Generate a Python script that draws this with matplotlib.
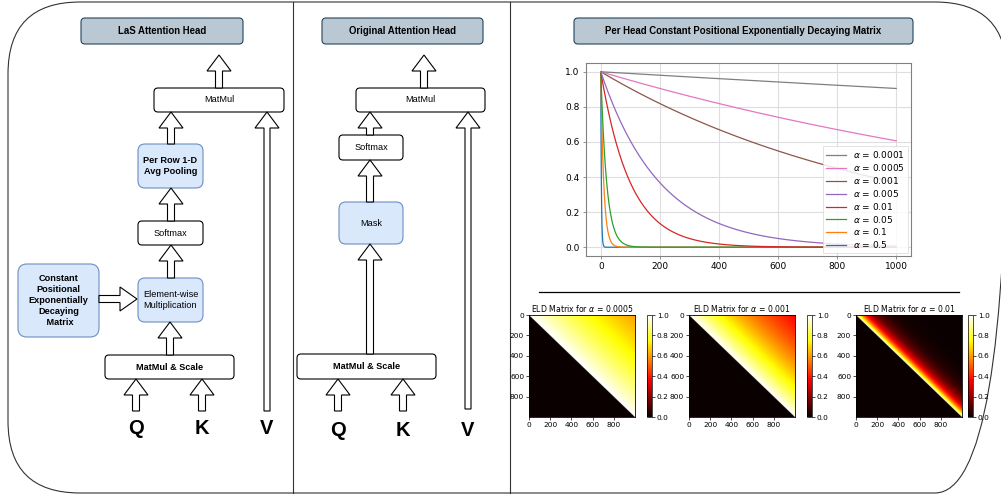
import numpy as np
import matplotlib
matplotlib.use('Agg')
import matplotlib.pyplot as plt
from matplotlib.patches import FancyBboxPatch, Polygon

# decay rates shown in the line chart (legend order)
alphas = [0.0001, 0.0005, 0.001, 0.005, 0.01, 0.05, 0.1, 0.5]
line_colors = ['tab:gray', 'tab:pink', 'tab:brown', 'tab:purple',
               'tab:red', 'tab:green', 'tab:orange', 'tab:blue']
seq_len = 1000
# decay rates shown in the three ELD heatmaps
heat_alphas = [0.0005, 0.001, 0.01]
heat_ticks = [0, 200, 400, 600, 800]
line_xticks = [0, 200, 400, 600, 800, 1000]
line_yticks = [0.0, 0.2, 0.4, 0.6, 0.8, 1.0]

W, H = 1001, 495
fig = plt.figure(figsize=(W / 100, H / 100), dpi=100)
fig.patch.set_facecolor('white')

DIAG_FONT = 'Liberation Sans'
TITLE_FC, TITLE_EC = '#bac8d3', '#23445d'
BLUE_FC, BLUE_EC = '#dae8fc', '#6c8ebf'


def fr(x0, y0, w, h):
    # pixel box (top-left origin) -> figure fraction
    return [x0 / W, 1 - (y0 + h) / H, w / W, h / H]


# ---- diagram layer, in pixel units ----
ax = fig.add_axes([0, 0, 1, 1], zorder=0)
ax.set_xlim(0, W)
ax.set_ylim(H, 0)
ax.axis('off')


def box(x0, y0, x1, y1, text, fc='white', ec='black', bold=False, size=6.6, r=4):
    ax.add_patch(FancyBboxPatch((x0, y0), x1 - x0, y1 - y0,
                                boxstyle='round,pad=0,rounding_size=%g' % r,
                                fc=fc, ec=ec, lw=0.8))
    ax.text((x0 + x1) / 2, (y0 + y1) / 2, text, ha='center', va='center',
            fontsize=size, family=DIAG_FONT, fontweight='bold' if bold else 'normal',
            linespacing=1.3)


def up(x, y_tail, y_tip, s=7, hw=24, hl=16):
    pts = [(x - s / 2, y_tail), (x - s / 2, y_tip + hl), (x - hw / 2, y_tip + hl),
           (x, y_tip), (x + hw / 2, y_tip + hl), (x + s / 2, y_tip + hl),
           (x + s / 2, y_tail)]
    ax.add_patch(Polygon(pts, closed=True, fc='white', ec='black', lw=0.8))


def right(y, x_tail, x_tip, s=7, hw=24, hl=17):
    pts = [(x_tail, y - s / 2), (x_tip - hl, y - s / 2), (x_tip - hl, y - hw / 2),
           (x_tip, y), (x_tip - hl, y + hw / 2), (x_tip - hl, y + s / 2),
           (x_tail, y + s / 2)]
    ax.add_patch(Polygon(pts, closed=True, fc='white', ec='black', lw=0.8))


def qkv(xs, y):
    for x, t in zip(xs, ['Q', 'K', 'V']):
        ax.text(x, y, t, ha='center', va='center', fontsize=14.5,
                fontweight='bold', family=DIAG_FONT)


# outer frame and dividers
ax.add_patch(FancyBboxPatch((8, 2), 999, 491,
                            boxstyle='round,pad=0,rounding_size=72',
                            fc='none', ec='#333333', lw=0.8))
ax.plot([293, 293], [2, 493], color='#333333', lw=0.8)
ax.plot([510, 510], [2, 493], color='#333333', lw=0.8)
ax.plot([539, 959], [292, 292], color='black', lw=0.9)

# LaS attention head
box(81, 18, 243, 44, 'LaS Attention Head', TITLE_FC, TITLE_EC, True, 6.9, 4)
box(154, 88, 284, 112, 'MatMul')
box(138, 144, 203, 188, 'Per Row 1-D\nAvg Pooling', BLUE_FC, BLUE_EC, True, 6.6, 7)
box(138, 221, 203, 245, 'Softmax')
box(138, 278, 203, 322, 'Element-wise\nMultiplication', BLUE_FC, BLUE_EC, False, 6.6, 7)
box(18, 264, 99, 337, 'Constant\nPositional\nExponentially\nDecaying\n Matrix',
    BLUE_FC, BLUE_EC, True, 6.6, 9)
box(105, 355, 234, 379, 'MatMul & Scale', bold=True)
up(219, 88, 55)
up(171, 144, 112)
up(171, 221, 188)
up(171, 278, 245)
up(170, 355, 322)
up(136, 411, 379)
up(202, 411, 379)
up(267, 411, 112, s=6)
right(299, 99, 137)
qkv([136, 202, 267], 428)

# original attention head
box(322, 18, 483, 44, 'Original Attention Head', TITLE_FC, TITLE_EC, True, 6.9, 4)
box(356, 88, 485, 112, 'MatMul')
box(339, 135, 403, 160, 'Softmax')
box(339, 202, 403, 244, 'Mask', BLUE_FC, BLUE_EC, False, 6.6, 7)
box(297, 354, 436, 379, 'MatMul & Scale', bold=True)
up(424, 88, 55)
up(370, 135, 112)
up(370, 202, 160)
up(370, 354, 244)
up(338, 411, 379)
up(403, 411, 379)
up(468, 409, 112, s=6)
qkv([338, 403, 468], 430)

# right panel title
box(574, 18, 913, 44, 'Per Head Constant Positional Exponentially Decaying Matrix',
    TITLE_FC, TITLE_EC, True, 6.9, 4)

# ---- decay curves ----
dist = np.arange(seq_len + 1)
lax = fig.add_axes(fr(586, 63, 325, 193), zorder=2)
handles = []
for a, c in reversed(list(zip(alphas, line_colors))):
    h, = lax.plot(dist, np.exp(-a * dist), color=c, lw=0.9,
                  label=r'$\alpha$ = %g' % a)
    handles.append(h)
lax.set_xticks(line_xticks)
lax.set_yticks(line_yticks)
lax.grid(True, color='0.87', lw=0.8)
lax.set_axisbelow(True)
for sp in lax.spines.values():
    sp.set_color('0.5')
lax.tick_params(labelsize=6.5, length=2.5, width=0.6, color='0.5', pad=2)
leg = lax.legend(handles[::-1], [h.get_label() for h in handles[::-1]],
                 loc='lower right', fontsize=6.5, borderaxespad=0.3,
                 labelspacing=0.2, handlelength=2.2, borderpad=0.35,
                 fancybox=False, framealpha=0.85)
leg.get_frame().set_edgecolor('0.85')
leg.get_frame().set_linewidth(0.6)

# ---- ELD heatmaps ----
idx = np.arange(seq_len)
gap = idx[None, :] - idx[:, None]
heat_x = [529, 689, 856]
cbar_x = [647, 807, 968]
for a, hx, cx in zip(heat_alphas, heat_x, cbar_x):
    mat = np.where(gap >= 0, np.exp(-a * np.clip(gap, 0, None)), 0.0)
    hax = fig.add_axes(fr(hx, 315, 106, 102), zorder=2)
    im = hax.imshow(mat, cmap='hot', vmin=0, vmax=1, aspect='auto',
                    interpolation='antialiased')
    hax.set_xticks(heat_ticks)
    hax.set_yticks(heat_ticks)
    hax.tick_params(labelsize=5.3, length=2, width=0.5, pad=1.5)
    for sp in hax.spines.values():
        sp.set_linewidth(0.6)
    hax.set_title(r'ELD Matrix for $\alpha$ = %g' % a, fontsize=5.6, pad=2)
    cax = fig.add_axes(fr(cx, 315, 5, 102), zorder=2)
    cb = fig.colorbar(im, cax=cax, ticks=line_yticks)
    cb.ax.tick_params(labelsize=5.3, length=2, width=0.5, pad=1.5)
    cb.outline.set_linewidth(0.5)

fig.savefig('out.png', dpi=100)
